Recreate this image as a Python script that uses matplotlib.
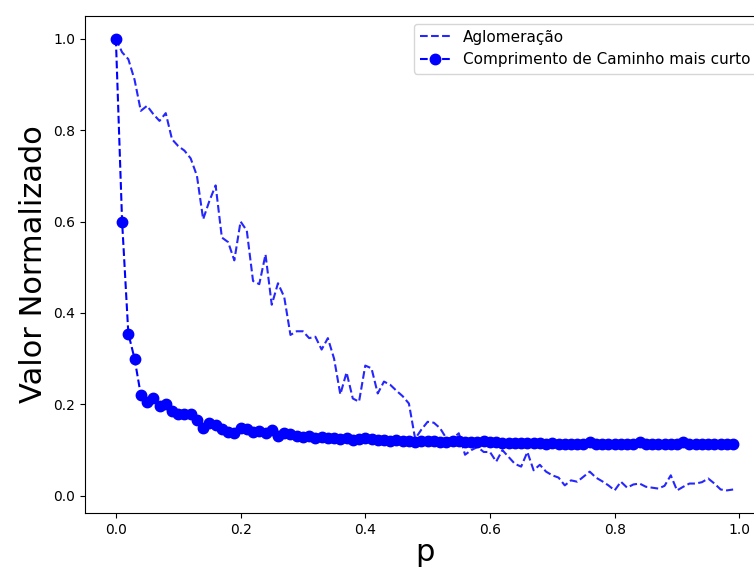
import numpy as np
import matplotlib
matplotlib.use("Agg")
import matplotlib.pyplot as plt

p_values = [round(i * 0.01, 2) for i in range(100)]

aglomeracao = [
    1.0, 0.97, 0.955, 0.91, 0.842, 0.853, 0.835, 0.82, 0.837, 0.78,
    0.765, 0.755, 0.738, 0.70, 0.605, 0.645, 0.679, 0.565, 0.555, 0.515,
    0.60, 0.58, 0.47, 0.463, 0.528, 0.418, 0.465, 0.435, 0.352, 0.36,
    0.36, 0.345, 0.348, 0.32, 0.345, 0.30, 0.222, 0.27, 0.213, 0.206,
    0.285, 0.279, 0.224, 0.25, 0.243, 0.23, 0.218, 0.202, 0.125, 0.145,
    0.162, 0.16, 0.148, 0.126, 0.125, 0.137, 0.09, 0.10, 0.107, 0.096,
    0.096, 0.075, 0.10, 0.085, 0.07, 0.064, 0.096, 0.056, 0.068, 0.053,
    0.045, 0.040, 0.023, 0.034, 0.031, 0.042, 0.053, 0.04, 0.032, 0.023,
    0.012, 0.031, 0.018, 0.025, 0.027, 0.02, 0.018, 0.016, 0.022, 0.045,
    0.012, 0.02, 0.027, 0.027, 0.03, 0.038, 0.027, 0.014, 0.012, 0.014,
]

caminho = [
    1.0, 0.60, 0.355, 0.30, 0.221, 0.206, 0.213, 0.197, 0.202, 0.186,
    0.178, 0.18, 0.18, 0.166, 0.148, 0.159, 0.155, 0.146, 0.14, 0.138,
    0.148, 0.146, 0.14, 0.142, 0.138, 0.144, 0.132, 0.137, 0.135, 0.13,
    0.128, 0.13, 0.127, 0.128, 0.126, 0.127, 0.125, 0.126, 0.122, 0.124,
    0.126, 0.124, 0.123, 0.122, 0.121, 0.122, 0.12, 0.12, 0.118, 0.12,
    0.119, 0.12, 0.118, 0.118, 0.12, 0.119, 0.118, 0.117, 0.118, 0.12,
    0.117, 0.118, 0.116, 0.116, 0.115, 0.116, 0.115, 0.116, 0.115, 0.114,
    0.115, 0.114, 0.114, 0.113, 0.114, 0.113, 0.118, 0.114, 0.113, 0.113,
    0.113, 0.113, 0.113, 0.113, 0.118, 0.113, 0.113, 0.113, 0.113, 0.113,
    0.113, 0.118, 0.113, 0.113, 0.113, 0.113, 0.113, 0.113, 0.113, 0.113,
]

fig = plt.figure(figsize=(7.54, 5.69), dpi=100)
ax = fig.add_axes([85 / 754, 56 / 569, 679 / 754, 497 / 569])

ax.plot(p_values, aglomeracao, '--', color='blue', alpha=0.85, linewidth=1.5,
        label='Aglomeração')
ax.plot(p_values, caminho, '--o', color='blue', linewidth=1.5, markersize=7.5,
        label='Comprimento de Caminho mais curto')

ax.set_xlabel('p', fontsize=22, labelpad=1)
ax.set_ylabel('Valor Normalizado', fontsize=22)
ax.legend(loc='upper right', fontsize=11)

fig.savefig('out.png', dpi=100)
